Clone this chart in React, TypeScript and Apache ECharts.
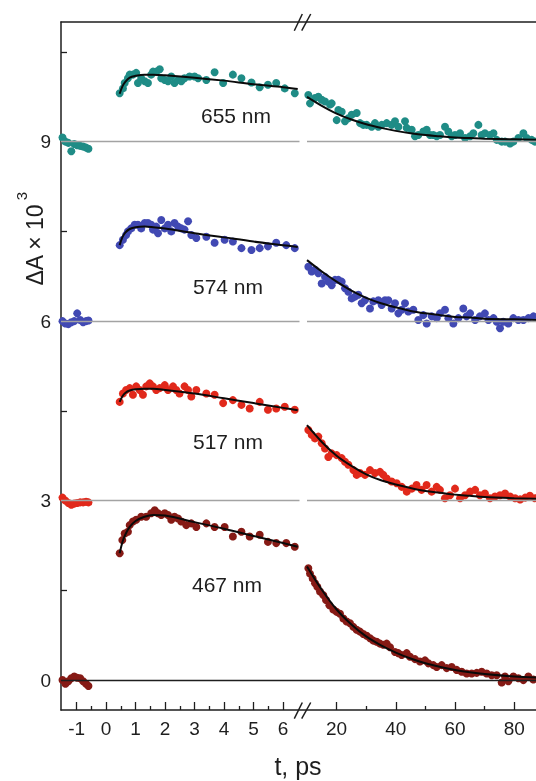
import React, { useEffect, useRef } from 'react';
import * as echarts from 'echarts';

// ---------- data (t in ps, ΔA × 10^3 incl. vertical offsets) ----------
const preT = [-1.48, -1.38, -1.28, -1.18, -1.08, -0.98, -0.88, -0.78, -0.68, -0.6];
const pre655 = [9.07, 9.0, 8.98, 8.84, 8.96, 8.94, 8.93, 8.92, 8.9, 8.88];
const pre574 = [6.0, 5.96, 5.95, 5.98, 6.0, 6.13, 6.02, 5.98, 6.0, 6.01];
const pre517 = [3.05, 3.0, 2.96, 2.93, 2.95, 2.96, 2.97, 2.97, 2.98, 2.97];
const pre467 = [0.0, -0.06, -0.02, 0.03, 0.06, 0.04, 0.03, -0.02, -0.06, -0.1];

const t655L = [0.46,0.57,0.63,0.74,0.80,0.91,1.02,1.08,1.19,1.31,1.42,1.53,1.59,1.70,1.82,1.87,1.99,2.10,2.21,2.32,2.44,2.55,2.66,2.83,3.00,3.12,3.40,3.68,3.97,4.30,4.59,4.93,5.21,5.49,5.77,6.06,6.40];
const v655L = [9.81,9.89,9.98,10.06,10.12,10.12,10.15,9.98,10.06,10.01,9.98,10.12,10.17,10.17,10.21,10.06,10.03,10.01,10.09,9.98,10.03,10.01,10.06,10.09,10.09,10.06,10.03,10.16,9.98,10.12,10.06,9.99,9.91,9.95,9.98,9.89,9.81];
const t655R = [10.45,11.01,12.70,13.83,14.96,16.09,17.78,18.34,20.03,20.59,21.72,22.84,23.97,25.09,26.78,27.91,29.03,30.16,31.85,32.97,34.10,35.23,36.92,38.6,39.73,40.86,43.11,43.67,45.36,46.49,47.61,49.3,50.43,51.55,52.68,53.81,54.93,56.62,57.75,58.87,60.0,61.7,63.4,65.1,66.2,67.9,69.0,70.1,71.8,73.0,74.1,75.8,76.9,78.6,79.7,81.4,83.1,84.2,85.9,87.0];
const v655R = [9.78,9.64,9.73,9.75,9.70,9.67,9.62,9.64,9.36,9.53,9.50,9.34,9.39,9.45,9.48,9.31,9.28,9.28,9.25,9.31,9.25,9.28,9.31,9.28,9.34,9.25,9.34,9.23,9.20,9.09,9.11,9.17,9.20,9.11,9.11,9.09,9.11,9.25,9.17,9.09,9.11,9.14,9.06,9.09,9.14,9.28,9.11,9.14,9.11,9.14,9.03,9.0,9.0,8.97,9.0,9.06,9.14,9.06,9.03,9.0];

const t574L = [0.46,0.57,0.68,0.74,0.85,0.97,1.08,1.19,1.31,1.42,1.53,1.59,1.70,1.76,1.87,1.99,2.10,2.21,2.32,2.44,2.55,2.66,2.78,2.89,3.06,3.40,3.68,4.02,4.30,4.59,4.93,5.21,5.49,5.77,6.11,6.40];
const v574L = [7.27,7.36,7.44,7.50,7.55,7.61,7.61,7.55,7.64,7.64,7.61,7.53,7.58,7.47,7.69,7.55,7.61,7.50,7.64,7.58,7.55,7.53,7.67,7.44,7.39,7.41,7.31,7.36,7.33,7.22,7.19,7.22,7.25,7.31,7.27,7.22];
const t574R = [10.45,11.58,12.70,13.83,14.96,16.09,17.21,18.34,19.46,20.59,21.72,22.84,23.97,25.09,26.22,27.34,28.47,29.59,31.28,32.41,34.10,35.23,36.35,37.48,38.6,39.73,40.86,41.98,43.11,44.23,45.92,47.61,49.3,50.43,52.12,53.81,54.93,56.62,57.75,59.44,61.13,62.8,63.9,65.1,66.8,68.4,70.1,71.3,73.0,74.1,75.2,76.3,78.0,79.7,81.4,83.1,84.8,86.5];
const v574R = [6.91,6.83,6.86,6.80,6.63,6.74,6.66,6.60,6.69,6.69,6.66,6.55,6.49,6.38,6.41,6.44,6.30,6.35,6.21,6.33,6.35,6.27,6.35,6.35,6.21,6.30,6.13,6.19,6.30,6.16,6.19,6.02,6.10,5.96,6.08,6.05,6.13,6.19,6.05,5.96,6.05,6.21,6.08,6.13,6.02,6.08,6.13,6.02,6.05,5.99,5.88,5.99,5.96,6.05,6.02,6.02,6.05,6.08];

const t517L = [0.46,0.57,0.68,0.80,0.91,1.02,1.14,1.25,1.36,1.48,1.59,1.70,1.82,1.99,2.10,2.27,2.38,2.49,2.66,2.78,2.89,3.06,3.40,3.68,3.97,4.30,4.59,4.87,5.21,5.49,5.77,6.06,6.40];
const v517L = [4.65,4.79,4.85,4.88,4.77,4.91,4.85,4.77,4.91,4.96,4.91,4.85,4.88,4.93,4.85,4.91,4.85,4.79,4.91,4.85,4.74,4.85,4.79,4.77,4.63,4.68,4.60,4.54,4.65,4.52,4.54,4.57,4.52];
const t517R = [10.45,11.58,12.70,13.83,14.96,16.09,17.21,18.34,20.03,21.72,22.84,23.97,25.66,26.78,27.91,29.59,31.28,32.97,34.66,35.79,36.92,38.6,40.3,42.0,43.7,45.4,47.0,48.7,50.4,52.1,53.8,54.9,56.6,58.3,60.0,61.7,63.4,65.1,66.8,68.4,70.1,71.8,73.5,75.2,76.9,78.6,80.3,82.0,83.7,85.3,87.0];
const v517R = [4.18,4.10,4.04,4.07,3.96,3.87,3.73,3.79,3.76,3.71,3.65,3.60,3.51,3.43,3.46,3.43,3.51,3.46,3.48,3.43,3.37,3.32,3.29,3.23,3.15,3.20,3.26,3.18,3.26,3.15,3.23,3.18,3.04,3.09,3.20,3.04,3.09,3.15,3.18,3.09,3.12,3.04,3.07,3.09,3.12,3.07,3.04,3.02,3.05,3.08,3.04];

const t467L = [0.46,0.55,0.63,0.74,0.80,0.91,1.02,1.19,1.36,1.53,1.65,1.76,1.87,1.99,2.10,2.21,2.32,2.44,2.55,2.72,2.89,3.06,3.40,3.68,4.02,4.30,4.59,4.87,5.21,5.49,5.77,6.11,6.40];
const v467L = [2.12,2.34,2.45,2.48,2.59,2.65,2.68,2.73,2.73,2.79,2.84,2.79,2.76,2.79,2.76,2.68,2.73,2.70,2.65,2.59,2.62,2.56,2.62,2.56,2.56,2.40,2.48,2.40,2.43,2.31,2.29,2.29,2.23];
const t467R = [10.45,11.01,11.91,12.70,13.49,14.39,15.52,16.42,17.55,18.90,20.03,21.15,22.28,23.40,24.53,25.65,26.78,27.91,29.03,30.16,31.28,32.41,33.53,34.66,35.79,36.92,38.04,39.73,40.86,41.98,43.67,44.80,46.49,48.18,49.87,50.99,52.68,53.81,55.50,57.19,58.87,60.56,62.25,63.94,65.63,67.32,69.01,70.70,72.39,74.08,75.77,76.89,78.02,79.71,81.40,83.09,84.77,86.46];
const v467R = [1.87,1.78,1.70,1.62,1.56,1.48,1.42,1.34,1.25,1.18,1.14,1.11,1.03,0.98,0.95,0.89,0.84,0.81,0.77,0.74,0.70,0.66,0.64,0.61,0.59,0.61,0.55,0.47,0.45,0.42,0.45,0.39,0.35,0.31,0.33,0.28,0.25,0.22,0.25,0.20,0.22,0.17,0.14,0.11,0.11,0.12,0.14,0.11,0.08,0.08,-0.04,0.06,-0.02,0.06,0.03,0.0,0.06,0.01];

// fitted curves
const fitTL = [0.46, 0.55, 0.65, 0.8, 1.0, 1.3, 1.6, 2.0, 3.0, 4.0, 5.0, 6.0, 6.5];
const fit655L = [9.80, 9.92, 10.0, 10.07, 10.1, 10.12, 10.12, 10.11, 10.07, 10.02, 9.96, 9.91, 9.88];
const fit574L = [7.27, 7.40, 7.48, 7.54, 7.57, 7.58, 7.57, 7.55, 7.47, 7.40, 7.33, 7.27, 7.24];
const fit517L = [4.65, 4.74, 4.80, 4.84, 4.86, 4.87, 4.87, 4.85, 4.79, 4.71, 4.63, 4.55, 4.51];
const fit467L = [2.12, 2.30, 2.43, 2.56, 2.66, 2.73, 2.76, 2.75, 2.64, 2.53, 2.41, 2.29, 2.23];
const fitTR = [10, 15, 20, 25, 30, 35, 40, 45, 50, 55, 60, 65, 70, 80, 88];
const fit655R = [9.75, 9.60, 9.47, 9.37, 9.29, 9.23, 9.18, 9.14, 9.11, 9.09, 9.07, 9.06, 9.05, 9.04, 9.03];
const fit574R = [7.02, 6.83, 6.66, 6.51, 6.39, 6.30, 6.23, 6.17, 6.13, 6.10, 6.07, 6.06, 6.04, 6.03, 6.02];
const fit517R = [4.26, 3.98, 3.75, 3.58, 3.44, 3.34, 3.27, 3.21, 3.16, 3.13, 3.10, 3.08, 3.06, 3.04, 3.03];
const fit467R = [1.90, 1.51, 1.18, 0.93, 0.73, 0.58, 0.46, 0.36, 0.28, 0.22, 0.17, 0.13, 0.10, 0.06, 0.04];

// axes
const xMajorL = [-1, 0, 1, 2, 3, 4, 5, 6];
const xMinorL = [-0.5, 0.5, 1.5, 2.5, 3.5, 4.5, 5.5];
const xMajorR = [20, 40, 60, 80];
const xMinorR = [30, 50, 70];
const yTicks = [0, 1.5, 3, 4.5, 6, 7.5, 9, 10.5];
const yLabels = [0, 3, 6, 9];
const baselines = [3, 6, 9];
const wavelengths = ['655 nm', '574 nm', '517 nm', '467 nm'];

const INK = '#1e1e1e';
const FONT = "'Liberation Sans', Arial, Helvetica, sans-serif";
const COLORS = ['#1f8c86', '#4149b3', '#e1291b', '#861a15'];

const zip = (a: number[], b: number[]) => a.map((x, i) => [x, b[i]]);

export default function App() {
  const ref = useRef<HTMLDivElement>(null);
  useEffect(() => {
    const chart = echarts.init(ref.current!, null, { renderer: 'svg' });
    const top = 22;
    const bottom = 71;
    const gL = { left: 61, top, width: 238.5, bottom, containLabel: false, outerBoundsMode: 'none' };
    const gR = { left: 307, top, right: 0, bottom, containLabel: false, outerBoundsMode: 'none' };
    const gF = { left: 61, top, right: 0, bottom, containLabel: false, outerBoundsMode: 'none' };
    const xMinL = -1.53, xMaxL = 6.56, xMinR = 10, xMaxR = 87.36;
    const labelStyle = { fontSize: 19, color: INK, fontFamily: FONT };
    const tickAxis = (grid: number, min: number, max: number, ticks: number[], len: number, labels: number[] | null) => ({
      type: 'value', gridIndex: grid, min, max,
      axisLine: { show: false, onZero: false },
      splitLine: { show: false },
      axisTick: { show: true, inside: true, length: len, customValues: ticks, lineStyle: { color: INK, width: 1.3 } },
      axisLabel: labels ? { show: true, customValues: labels, margin: 9, ...labelStyle } : { show: false },
    });
    const hiddenY = (grid: number) => ({ type: 'value', gridIndex: grid, min: -0.5, max: 11, show: false, axisLine: { onZero: false } });

    const pres = [pre655, pre574, pre517, pre467];
    const leftT = [t655L, t574L, t517L, t467L];
    const leftV = [v655L, v574L, v517L, v467L];
    const rightT = [t655R, t574R, t517R, t467R];
    const rightV = [v655R, v574R, v517R, v467R];
    const fitL = [fit655L, fit574L, fit517L, fit467L];
    const fitR = [fit655R, fit574R, fit517R, fit467R];

    const scatter = (axis: number, data: number[][], color: string) => ({
      type: 'scatter', xAxisIndex: axis, yAxisIndex: axis, data, symbolSize: 8,
      itemStyle: { color, opacity: 1 }, silent: true, clip: true, z: 3,
    });
    const fit = (axis: number, data: number[][]) => ({
      type: 'line', xAxisIndex: axis, yAxisIndex: axis, data, symbol: 'none', showSymbol: false,
      smooth: 0.35, lineStyle: { color: '#0a0a0a', width: 2 }, silent: true, clip: true, z: 4,
    });
    const baseLine = (axis: number, values: number[], color: string) => ({
      type: 'scatter', xAxisIndex: axis, yAxisIndex: axis, data: [], silent: true, z: 1,
      markLine: {
        silent: true, symbol: ['none', 'none'], label: { show: false },
        lineStyle: { color, width: 1.4, type: 'solid' },
        data: values.map((v) => ({ yAxis: v })),
      },
    });

    const series: any[] = [
      baseLine(0, baselines, '#a3a3a3'),
      baseLine(2, baselines, '#a3a3a3'),
      baseLine(4, [0], INK),
    ];
    for (let i = 0; i < 4; i++) {
      series.push(scatter(0, zip(preT, pres[i]), COLORS[i]));
      series.push(scatter(0, zip(leftT[i], leftV[i]), COLORS[i]));
      series.push(scatter(2, zip(rightT[i], rightV[i]), COLORS[i]));
      series.push(fit(0, zip(fitTL, fitL[i])));
      series.push(fit(2, zip(fitTR, fitR[i])));
    }

    const labelPos = [[236, 115], [228, 286], [228, 441], [227, 584]];
    const slash = (x1: number, y1: number, x2: number, y2: number) => ({
      type: 'line', silent: true, z: 100,
      shape: { x1, y1, x2, y2 },
      style: { stroke: INK, lineWidth: 1.5 },
    });

    const option: any = {
      animation: false,
      textStyle: { fontFamily: FONT },
      grid: [gL, gL, gR, gR, gF],
      xAxis: [
        tickAxis(0, xMinL, xMaxL, xMajorL, 8, xMajorL),
        tickAxis(1, xMinL, xMaxL, xMinorL, 4, null),
        tickAxis(2, xMinR, xMaxR, xMajorR, 8, xMajorR),
        tickAxis(3, xMinR, xMaxR, xMinorR, 4, null),
        {
          type: 'value', gridIndex: 4, min: 0, max: 1, position: 'bottom',
          axisLine: { show: true, onZero: false, lineStyle: { color: INK, width: 1.5 } },
          axisTick: { show: false }, axisLabel: { show: false }, splitLine: { show: false },
        },
        {
          type: 'value', gridIndex: 4, min: 0, max: 1, position: 'top',
          axisLine: { show: true, onZero: false, lineStyle: { color: INK, width: 1.5 } },
          axisTick: { show: false }, axisLabel: { show: false }, splitLine: { show: false },
        },
      ],
      yAxis: [
        hiddenY(0), hiddenY(1), hiddenY(2), hiddenY(3),
        {
          type: 'value', gridIndex: 4, min: -0.5, max: 11,
          axisLine: { show: true, onZero: false, lineStyle: { color: INK, width: 1.5 } },
          axisTick: { show: true, inside: true, length: 6, customValues: yTicks, lineStyle: { color: INK, width: 1.3 } },
          axisLabel: { show: true, customValues: yLabels, margin: 10, ...labelStyle },
          splitLine: { show: false },
        },
      ],
      series,
      graphic: [
        ...wavelengths.map((w, i) => ({
          type: 'text', x: labelPos[i][0], y: labelPos[i][1], silent: true, z: 100,
          style: { text: w, fontSize: 21, fontFamily: FONT, fill: INK, align: 'center', verticalAlign: 'middle' },
        })),
        {
          type: 'text', x: 298, y: 766, silent: true, z: 100,
          style: { text: 't, ps', fontSize: 25, fontFamily: FONT, fill: INK, align: 'center', verticalAlign: 'middle' },
        },
        {
          type: 'text', x: 35, y: 245, rotation: Math.PI / 2, silent: true, z: 100,
          style: { text: 'ΔA × 10', fontSize: 23, fontFamily: FONT, fill: INK, align: 'center', verticalAlign: 'middle' },
        },
        {
          type: 'text', x: 21, y: 196, rotation: Math.PI / 2, silent: true, z: 100,
          style: { text: '3', fontSize: 15, fontFamily: FONT, fill: INK, align: 'center', verticalAlign: 'middle' },
        },
        slash(294.3, 30.7, 302.3, 14), slash(301.7, 30.7, 310.7, 14),
        slash(294.3, 718.7, 302.3, 702.5), slash(301.7, 718.7, 310.7, 702.5),
      ],
    };
    chart.setOption(option);
    return () => chart.dispose();
  }, []);
  return <div ref={ref} style={{ position: 'fixed', left: 0, top: 0, width: 536, height: 781 }} />;
}
